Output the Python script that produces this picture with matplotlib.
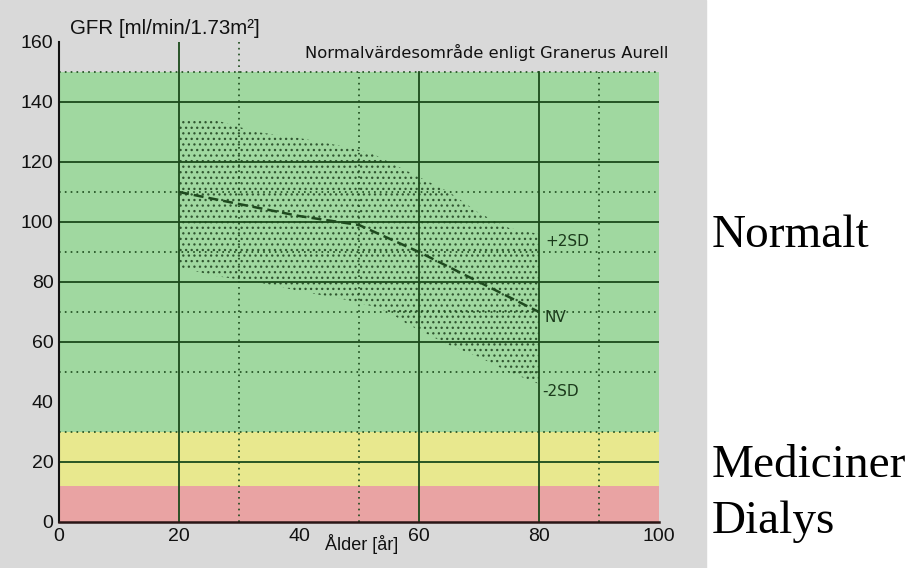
import matplotlib.pyplot as plt
from matplotlib.patches import Rectangle

# zones (GFR levels) and their colours
zone_lo = [0, 12, 30]
zone_hi = [12, 30, 150]
zone_col = ["#e9a3a3", "#e8e88e", "#a0d8a0"]

# grid lines
solid_y = [20, 60, 80, 100, 120, 140]
dotted_y = [30, 50, 70, 90, 110, 150]
solid_x = [20, 60, 80]
dotted_x = [30, 50, 90]
tall_x = [20, 30]  # these go all the way up to 160

# normal range (stippled area)
sd_age = [20, 26, 33, 40, 48, 52, 55, 58, 61, 65, 70, 75, 80]
sd_upper = [134, 134, 130, 128, 125, 123, 120, 117, 114, 110, 103, 98, 96]
sd_lower = [85, 82, 80, 77, 74, 72, 70, 66, 63, 59, 55, 50, 46]

# normal value curve
nv_age = [20, 30, 40, 50, 60, 70, 80]
nv_gfr = [110, 106, 102, 99, 90, 80, 70]

xticks = [0, 20, 40, 60, 80, 100]
yticks = [0, 20, 40, 60, 80, 100, 120, 140, 160]

line_col = "#1b4a1b"

fig = plt.figure(figsize=(9.19, 5.68), dpi=100, facecolor="white")
fig.patches.append(Rectangle((0, 0), 706/919, 1, transform=fig.transFigure,
                             color="#d9d9d9", zorder=-10))
ax = fig.add_axes([59/919, 46/568, 600/919, 480/568])
ax.set_facecolor("none")
ax.set_xlim(0, 100)
ax.set_ylim(0, 160)

for lo, hi, c in zip(zone_lo, zone_hi, zone_col):
    ax.axhspan(lo, hi, color=c, lw=0, zorder=0)

for y in solid_y:
    ax.plot([0, 100], [y, y], color=line_col, lw=1.3, zorder=2)
for y in dotted_y:
    ax.plot([0, 100], [y, y], color=line_col, lw=1.2, ls=(0, (1, 2.5)), zorder=2)
for x in solid_x:
    top = 160 if x in tall_x else 150
    ax.plot([x, x], [0, top], color=line_col, lw=1.3, zorder=2)
for x in dotted_x:
    top = 160 if x in tall_x else 150
    ax.plot([x, x], [0, top], color=line_col, lw=1.2, ls=(0, (1, 2.5)), zorder=2)

plt.rcParams["hatch.color"] = "#2f552f"
plt.rcParams["hatch.linewidth"] = 0.9
ax.fill_between(sd_age, sd_lower, sd_upper, facecolor="none", edgecolor="#2f552f",
                hatch="...", lw=0, zorder=1)

ax.plot(nv_age, nv_gfr, color="#1e4a1e", lw=1.8, ls=(0, (4, 2)), zorder=3)

ax.text(81, 93.5, "+2SD", fontsize=11, color="#1b3a1b", va="center")
ax.text(81, 68, "NV", fontsize=11, color="#1b3a1b", va="center")
ax.text(80.5, 43.5, "-2SD", fontsize=11, color="#1b3a1b", va="center")

ax.text(101.5, 156.5, "Normalvärdesområde enligt Granerus Aurell", fontsize=11.8,
        ha="right", va="center", color="#111111")
ax.text(1.8, 164.5, "GFR [ml/min/1.73m²]", fontsize=14.8, family="Liberation Sans",
        ha="left", va="center", color="#111111", clip_on=False)
ax.text(50.5, -7.5, "Ålder [år]", fontsize=13, family="Liberation Sans",
        ha="center", va="center", color="#111111", clip_on=False)

for s in ["top", "right"]:
    ax.spines[s].set_visible(False)
ax.spines["left"].set_color("#111111")
ax.spines["left"].set_linewidth(1.5)
ax.spines["bottom"].set_color("#2a1515")
ax.spines["bottom"].set_linewidth(1.8)

ax.set_xticks(xticks)
ax.set_yticks(yticks)
ax.tick_params(length=0, labelsize=14, labelcolor="#111111", pad=4)
for lab in ax.get_xticklabels() + ax.get_yticklabels():
    lab.set_family("Liberation Sans")

fig.text(712/919, 1 - 247/568, "Normalt", family="Liberation Serif", fontsize=34,
         va="baseline")
fig.text(712/919, 1 - 477/568, "Mediciner", family="Liberation Serif", fontsize=34,
         va="baseline")
fig.text(712/919, 1 - 533/568, "Dialys", family="Liberation Serif", fontsize=34,
         va="baseline")

fig.savefig("out.png", dpi=100)
